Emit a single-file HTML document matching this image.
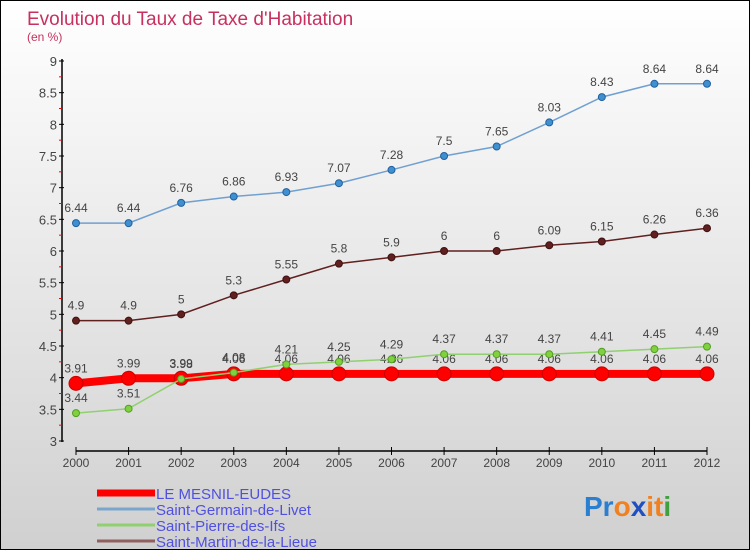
<!DOCTYPE html>
<html><head><meta charset="utf-8"><style>
body{margin:0}
#c{width:750px;height:550px;position:relative;font-family:"Liberation Sans",sans-serif;background:linear-gradient(#fff,#d0d0d0);box-sizing:border-box;border:1px solid #000;overflow:hidden}
</style></head><body>
<div id="c">
<svg id="s" width="750" height="550" style="position:absolute;left:0;top:0">
<text x="26" y="24" font-size="19" fill="#c8305f">Evolution du Taux de Taxe d'Habitation</text>
<text x="26" y="40" font-size="12" fill="#c8305f">(en %)</text>
<text x="583" y="515" font-size="28" font-weight="bold"><tspan fill="#2a7fd0">Pr</tspan><tspan fill="#f08020">o</tspan><tspan fill="#2050c0">x</tspan><tspan fill="#f08020">it</tspan><tspan fill="#40a040">i</tspan></text>
</svg>
</div>
<script>
const years=[2000,2001,2002,2003,2004,2005,2006,2007,2008,2009,2010,2011,2012];
const mesnil=[3.91,3.99,3.99,4.06,4.06,4.06,4.06,4.06,4.06,4.06,4.06,4.06,4.06];
const germain=[6.44,6.44,6.76,6.86,6.93,7.07,7.28,7.5,7.65,8.03,8.43,8.64,8.64];
const pierre=[3.44,3.51,3.98,4.08,4.21,4.25,4.29,4.37,4.37,4.37,4.41,4.45,4.49];
const martin=[4.9,4.9,5,5.3,5.55,5.8,5.9,6,6,6.09,6.15,6.26,6.36];
const yTicks=[3,3.5,4,4.5,5,5.5,6,6.5,7,7.5,8,8.5,9];
const seriesNames=["LE MESNIL-EUDES","Saint-Germain-de-Livet","Saint-Pierre-des-Ifs","Saint-Martin-de-la-Lieue"];
const NS="http://www.w3.org/2000/svg";
const svg=document.getElementById('s');
const X=i=>75+i*(706-75)/(years.length-1);
const Y=v=>440-(v-3)*(380/6);
function el(t,a,p){const e=document.createElementNS(NS,t);for(const k in a)e.setAttribute(k,a[k]);(p||svg).appendChild(e);return e;}
let ax=el('line',{x1:61,y1:58,x2:61,y2:441,stroke:'#000','stroke-width':1.5});

let bx=el('line',{x1:75,y1:450,x2:706,y2:450,stroke:'#000','stroke-width':1.5});

yTicks.forEach((v,i)=>{
 el('line',{x1:58,x2:63,y1:Y(v),y2:Y(v),stroke:'#000'});
 if(i<yTicks.length-1){el('line',{x1:58,x2:61,y1:Y(v+0.25),y2:Y(v+0.25),stroke:'#f00'});}
 const t=el('text',{x:56,y:Y(v)+5,'font-size':13,fill:'#444','text-anchor':'end'});t.textContent=v;
 
});
years.forEach((y,i)=>{
 el('line',{x1:X(i),x2:X(i),y1:446,y2:454,stroke:'#000'});
 const t=el('text',{x:X(i),y:466,'font-size':12,fill:'#444','text-anchor':'middle'});t.textContent=y;
 
});
function series(data,color,fill,w,r,name,ptStroke){
 const g=el('g',{});
 el('polyline',{points:data.map((v,i)=>X(i)+','+Y(v)).join(' '),fill:'none',stroke:color,'stroke-width':w},g);
 data.forEach((v,i)=>{
  const c=el('circle',{cx:X(i),cy:Y(v),r:r,fill:fill,stroke:ptStroke,'stroke-width':1},g);
  
  const t=el('text',{x:X(i),y:Y(v)-11,'font-size':12,fill:'#444','text-anchor':'middle'},g);t.textContent=v;
 });
}
series(mesnil,'#f00','#f00',8,7,'series-le-mesnil-eudes','#c00');
series(martin,'#602020','#602020',1.5,3.5,'series-saint-martin','#401010');
series(pierre,'#90d070','#80d040',1.5,3.5,'series-saint-pierre','#50a020');
series(germain,'#70a0d0','#4090d0',1.5,3.5,'series-saint-germain','#2060a0');
const lc=['#f00','#7aa6cc','#90d070','#906060'],lw=[7,3,3,3];
seriesNames.forEach((n,i)=>{
 const y=492+i*16;
 const g=el('g',{});
 el('line',{x1:96,x2:154,y1:y,y2:y,stroke:lc[i],'stroke-width':lw[i]},g);
 const t=el('text',{x:155,y:y+6,'font-size':15,fill:'#5050e0'},g);t.textContent=n;
});
</script>
</body></html>
